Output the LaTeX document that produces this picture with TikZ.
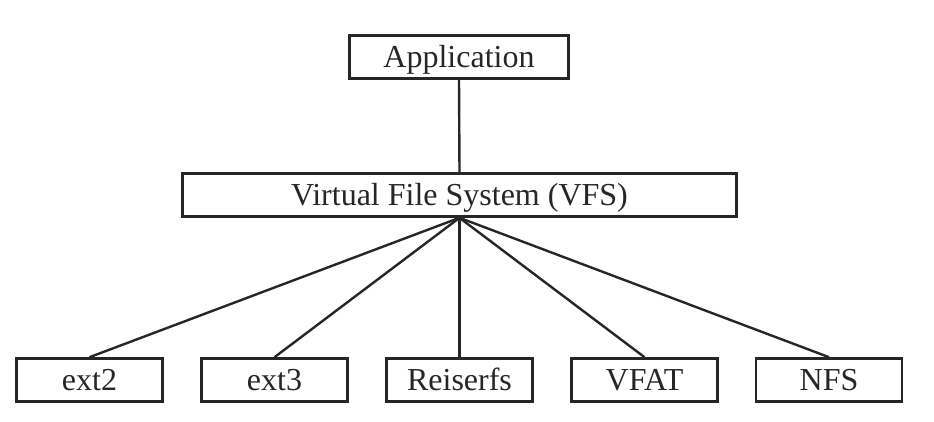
\documentclass[tikz,border=0pt]{standalone}
\usepackage{fontspec}
\setmainfont{Liberation Serif}
\begin{document}
\begin{tikzpicture}[x=1pt,y=1pt,
  boxnode/.style={draw=black!85, line width=2.6pt, inner sep=0pt, minimum height=43pt,
    text height=21pt, text depth=0pt, font=\fontsize{32}{36}\selectfont, text=black!85},
  fsnode/.style={boxnode, minimum width=146pt},
  link/.style={draw=black!85, line width=2.4pt}]
\useasboundingbox (0,0) rectangle (934,421);
\node[boxnode, minimum width=219pt] (app) at (459,364) {Application};
\node[boxnode, minimum width=554pt] (vfs) at (459.5,226) {Virtual File System (VFS)};
\node[fsnode] (ext2) at (89.5,41) {ext2};
\node[fsnode] (ext3) at (274.5,41) {ext3};
\node[fsnode] (reis) at (459.5,41) {Reiserfs};
\node[fsnode] (vfat) at (644.5,41) {VFAT};
\node[fsnode] (nfs) at (829,41) {NFS};
\draw[link] (app.south) -- (vfs.north);
\foreach \n in {ext2,ext3,reis,vfat,nfs} \draw[link] (vfs.south) -- (\n.north);
\end{tikzpicture}
\end{document}
